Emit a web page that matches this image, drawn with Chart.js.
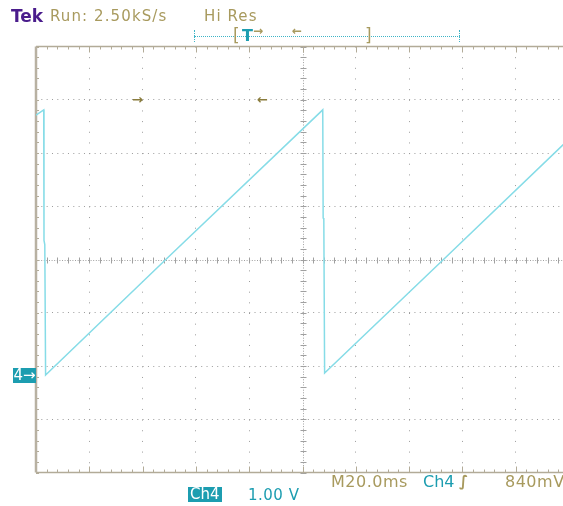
<!DOCTYPE html>
<html><head><meta charset="utf-8">
<script src="https://cdn.jsdelivr.net/npm/chart.js@4"></script>
<style>
html,body{margin:0;padding:0;background:#fff;overflow:hidden;width:563px;height:506px;}
#wrap{position:relative;width:563px;height:506px;overflow:hidden;background:#fff;}
canvas{position:absolute;left:0;top:0;}
.t{position:absolute;font-family:"DejaVu Sans",sans-serif;white-space:nowrap;line-height:1;}
.tan{color:#a89a5e;}
.teal{color:#1c9db0;}
</style></head><body>
<div id="wrap">
<canvas id="c" width="575" height="506"></canvas>
<div class="t" style="left:11px;top:8px;font-size:17px;font-weight:bold;color:#4a1c8c;">Tek</div>
<div class="t tan" style="left:50px;top:9px;font-size:15px;letter-spacing:1.1px;">Run: 2.50kS/s</div>
<div class="t tan" style="left:204px;top:9px;font-size:15px;letter-spacing:1.1px;">Hi Res</div>
<div style="position:absolute;left:194px;top:36px;width:266px;border-top:1px dotted #3fb4c6;"></div>
<div style="position:absolute;left:194px;top:30px;height:12px;border-left:1px dotted #3fb4c6;"></div>
<div style="position:absolute;left:459px;top:30px;height:12px;border-left:1px dotted #3fb4c6;"></div>
<div class="t tan" style="left:233px;top:27px;font-size:17px;">[</div>
<div class="t teal" style="left:242px;top:28px;font-size:16px;font-weight:bold;">T</div>
<div class="t tan" style="left:253px;top:25px;font-size:12px;font-weight:bold;">→</div>
<div class="t tan" style="left:292px;top:25px;font-size:12px;font-weight:bold;">←</div>
<div class="t tan" style="left:365px;top:27px;font-size:17px;">]</div>
<div class="t" style="left:132px;top:93px;font-size:13px;color:#8a7c3c;font-weight:bold;">→</div>
<div class="t" style="left:257px;top:93px;font-size:13px;color:#8a7c3c;font-weight:bold;">←</div>
<div class="t" style="left:13px;top:368px;width:23px;height:15px;background:#1c9db0;color:#fff;font-size:15px;line-height:15px;text-align:center;">4→</div>
<div class="t tan" style="left:331px;top:474px;font-size:16px;letter-spacing:0.5px;">M20.0ms</div>
<div class="t teal" style="left:423px;top:474px;font-size:16px;">Ch4</div>
<div class="t tan" style="left:459px;top:474px;font-size:15px;font-style:italic;font-weight:bold;">∫</div>
<div class="t tan" style="left:505px;top:474px;font-size:16px;letter-spacing:0.5px;">840mV</div>
<div class="t" style="left:188px;top:487px;padding:0 2px;height:15px;background:#1c9db0;color:#fff;font-size:15px;line-height:15px;">Ch4</div>
<div class="t teal" style="left:248px;top:488px;font-size:15px;letter-spacing:0.5px;">1.00 V</div>
</div>
<script>
// ---- data (time in ms from left edge, volts on Ch4) ----
const timeMs = [0, 2.9, 3.0, 3.3, 3.6, 48.7, 107.6, 107.75, 108.0, 108.3, 152.9, 200];
const volts  = [4.88, 4.98, 2.53, 2.45, 0.00, 2.17, 4.98, 2.95, 2.92, 0.04, 2.17, 4.43];
// graticule settings
const msPerDiv = 20;
const voltsPerDiv = 1.0;
const groundDiv = -2.17;   // position of 0 V in divisions from screen centre
const hDivs = [0,1,2,3,4,5,6,7,8,9,10];
const vDivs = [-4,-3,-2,-1,0,1,2,3,4];

const points = timeMs.map((t, i) => ({x: t, y: volts[i]}));
const vMin = (-4 - groundDiv) * voltsPerDiv;
const vMax = (4 - groundDiv) * voltsPerDiv;
const vCenter = (0 - groundDiv) * voltsPerDiv;

const graticule = {
  id: 'graticule',
  beforeDatasetsDraw(chart) {
    const {ctx, chartArea: a, scales: {x, y}} = chart;
    const cx = Math.round(x.getPixelForValue(5 * msPerDiv)) + 0.5;
    const cy = Math.round(y.getPixelForValue(vCenter)) + 0.5;
    const dx = (a.right - a.left) / 50, dy = (a.bottom - a.top) / 40;
    ctx.save();
    ctx.lineWidth = 1;
    ctx.strokeStyle = '#a0a0a0';
    ctx.setLineDash([1, 1.6]);
    ctx.beginPath();
    ctx.moveTo(a.left, cy); ctx.lineTo(a.right, cy);
    ctx.moveTo(cx, a.top); ctx.lineTo(cx, a.bottom);
    ctx.stroke();
    ctx.setLineDash([]);
    ctx.beginPath();
    for (let i = 0; i <= 50; i++) {
      const px = Math.round(a.left + i * dx) + 0.5;
      ctx.moveTo(px, cy - 3); ctx.lineTo(px, cy + 3);
    }
    for (let j = 0; j <= 40; j++) {
      const py = Math.round(a.top + j * dy) + 0.5;
      ctx.moveTo(cx - 3, py); ctx.lineTo(cx + 3, py);
    }
    ctx.stroke();
    // frame ticks
    ctx.strokeStyle = '#b2ab98';
    ctx.beginPath();
    for (let i = 0; i <= 50; i++) {
      const px = Math.round(a.left + i * dx) + 0.5;
      const len = i % 5 === 0 ? 6 : 3;
      ctx.moveTo(px, a.top); ctx.lineTo(px, a.top + len);
      ctx.moveTo(px, a.bottom); ctx.lineTo(px, a.bottom - len);
    }
    for (let j = 0; j <= 40; j++) {
      const py = Math.round(a.top + j * dy) + 0.5;
      ctx.moveTo(a.left, py); ctx.lineTo(a.left + 3, py);
    }
    ctx.stroke();
    ctx.lineWidth = 1.5;
    ctx.beginPath();
    ctx.moveTo(a.left, a.top); ctx.lineTo(a.right, a.top);
    ctx.moveTo(a.left, a.bottom); ctx.lineTo(a.right, a.bottom);
    ctx.stroke();
    ctx.lineWidth = 2.5;
    ctx.strokeStyle = '#b8b1a2';
    ctx.beginPath();
    ctx.moveTo(a.left, a.top); ctx.lineTo(a.left, a.bottom);
    ctx.stroke();
    ctx.restore();
  }
};

const gridColor = (n) => (ctx) => {
  const i = ctx.index;
  if (i === 0 || i === n - 1 || i === (n - 1) / 2) return 'rgba(0,0,0,0)';
  return '#9c9c9c';
};

new Chart(document.getElementById('c'), {
  type: 'line',
  data: { datasets: [{
    data: points,
    borderColor: '#86dce7',
    borderWidth: 1.5,
    pointRadius: 0,
    tension: 0,
    fill: false
  }]},
  options: {
    responsive: false,
    animation: false,
    layout: { padding: { left: 36, top: 46.5, right: 6, bottom: 33.5 } },
    plugins: { legend: {display: false}, tooltip: {enabled: false} },
    scales: {
      x: {
        type: 'linear', min: 0, max: 10 * msPerDiv,
        afterBuildTicks: (s) => { s.ticks = hDivs.map(d => ({value: d * msPerDiv})); },
        ticks: { display: false },
        grid: { drawTicks: false, color: gridColor(hDivs.length), lineWidth: 1 },
        border: { display: false, dash: [1, 9.66] }
      },
      y: {
        type: 'linear', min: vMin, max: vMax,
        afterBuildTicks: (s) => { s.ticks = vDivs.map(d => ({value: (d - groundDiv) * voltsPerDiv})); },
        ticks: { display: false },
        grid: { drawTicks: false, color: gridColor(vDivs.length), lineWidth: 1 },
        border: { display: false, dash: [1, 4.33] }
      }
    }
  },
  plugins: [graticule]
});
</script>
</body></html>
